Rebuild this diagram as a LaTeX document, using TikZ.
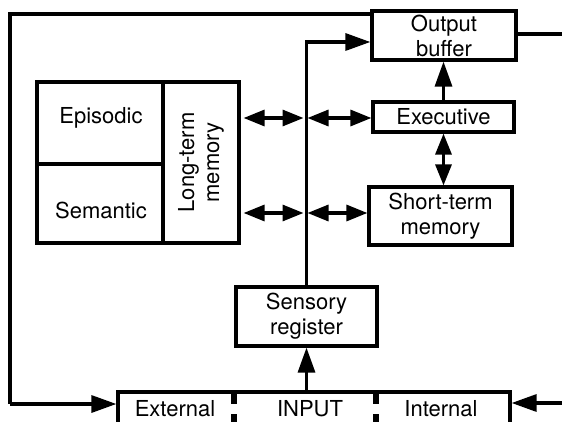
\documentclass[tikz,border=0pt]{standalone}
\usepackage{fontspec}
\setmainfont{TeX Gyre Heros}
\usetikzlibrary{arrows.meta}
\begin{document}
\begin{tikzpicture}[x=1pt,y=-1pt,
  box/.style={draw,line width=3.2pt,inner sep=0pt,align=center,font=\fontsize{22}{25}\selectfont},
  ln/.style={line width=3.2pt},
  tip/.style={-{Triangle[length=25pt,width=17pt]}},
  dbl/.style={{Triangle[length=21pt,width=16pt]}-{Triangle[length=21pt,width=16pt]}},
  txt/.style={font=\fontsize{22}{25}\selectfont,inner sep=0pt,align=center}]
\clip (0,0) rectangle (562,422);
% boxes
\node[box,minimum width=144pt,minimum height=49pt] (ob) at (444,35.5) {Output\\buffer};
\node[box,minimum width=141pt,minimum height=30pt] (ex) at (443.5,117) {Executive};
\node[box,minimum width=143pt,minimum height=58pt] (stm) at (440.5,216) {Short-term\\memory};
\node[box,minimum width=141pt,minimum height=59pt] (sr) at (306.5,316.5) {Sensory\\register};
\node[box,minimum width=126pt,minimum height=82pt] (epi) at (100,123) {};
\node[txt] at (101,118) {Episodic};
\node[box,minimum width=126pt,minimum height=79pt] (sem) at (100,203.5) {};
\node[txt] at (101,210) {Semantic};
\node[box,minimum width=76pt,minimum height=161pt] (ltm) at (201,162.5) {};
\node[txt,rotate=90] at (ltm.center) {Long-term\\memory};
\node[box,minimum width=392pt,minimum height=40pt] (input) at (314,412) {};
\node[txt] at (175,409) {External};
\node[txt] at (310,409) {INPUT};
\node[txt] at (441,409) {Internal};
\draw[line width=6.5pt,dash pattern=on 12pt off 10pt] (234,392) -- (234,440);
\draw[line width=6.5pt,dash pattern=on 12pt off 10pt] (376,392) -- (376,440);
% coordinates
\coordinate (tl) at (10,14);
\coordinate (bl) at (10,404);
\coordinate (outr) at (562,34);
\coordinate (inr) at (562,403);
\coordinate (ja) at (306.5,42);
\coordinate (j1) at (306.5,118);
\coordinate (j2) at (306.5,213);
% connectors
\draw[ln] (ob.west |- tl) -- (tl) -- (bl);
\draw[ln,tip] (bl) -- (input.west |- bl);
\draw[ln] (ob.east |- outr) -- (outr);
\draw[ln,tip] (inr) -- (input.east |- inr);
\draw[ln,tip] (ex.north) -- (ex.north |- ob.south);
\draw[ln,dbl] (ex.south) -- (ex.south |- stm.north);
\draw[ln,tip] (sr.north) |- (ob.west |- ja);
\draw[ln,dbl,shorten <=3pt,shorten >=3pt] (ltm.east |- j1) -- (j1);
\draw[ln,dbl,shorten <=1pt] (j1) -- (ex.west |- j1);
\draw[ln,dbl,shorten <=3pt,shorten >=3pt] (ltm.east |- j2) -- (j2);
\draw[ln,dbl,shorten <=1pt] (j2) -- (stm.west |- j2);
\draw[ln,tip] (input.north -| sr.south) -- (sr.south);
\end{tikzpicture}
\end{document}
